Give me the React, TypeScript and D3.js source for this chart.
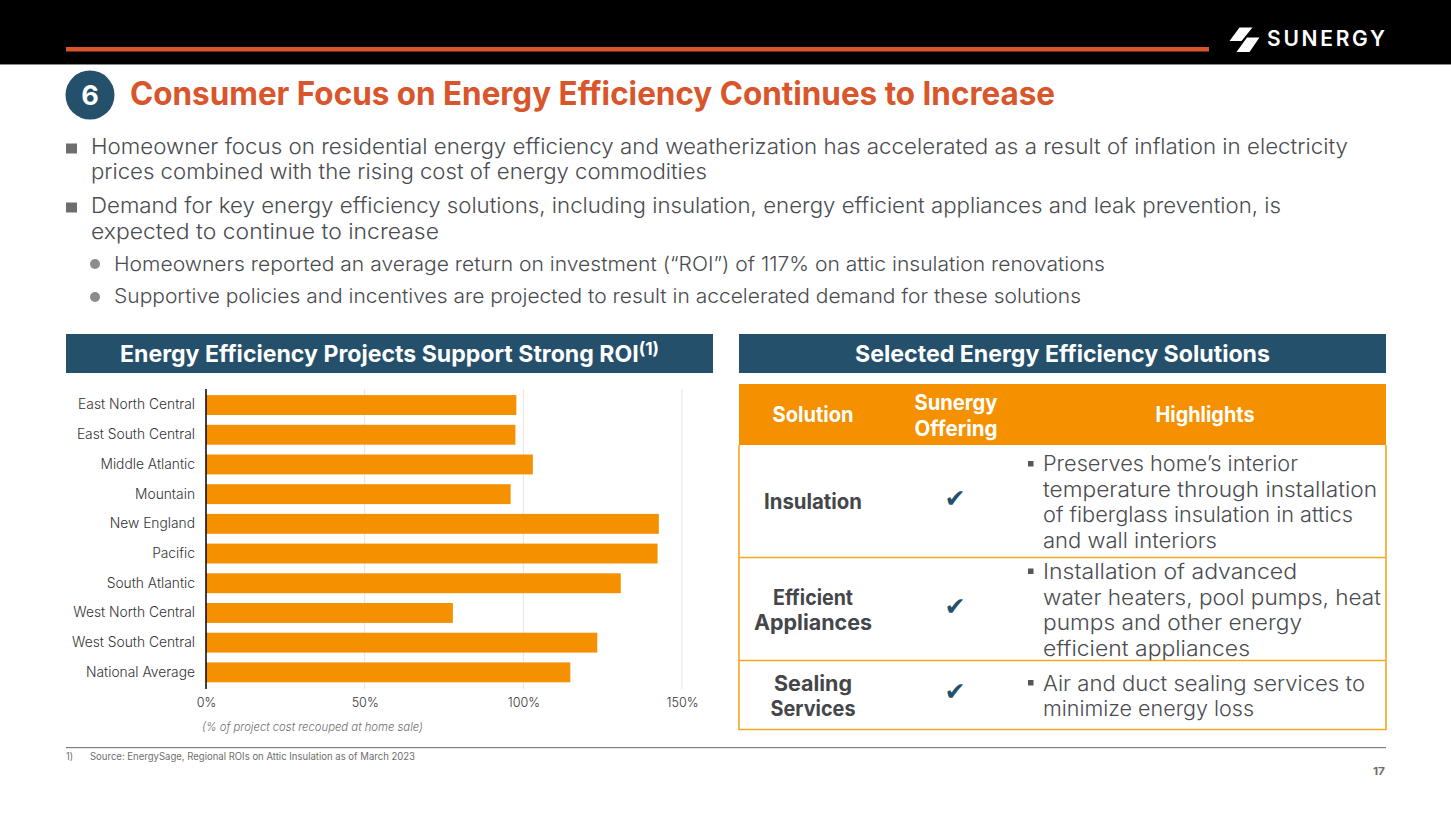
import { useEffect, useRef } from "react";
import * as d3 from "d3";

const regions = [
  "East North Central",
  "East South Central",
  "Middle Atlantic",
  "Mountain",
  "New England",
  "Pacific",
  "South Atlantic",
  "West North Central",
  "West South Central",
  "National Average",
];
const roiValues = [97.8, 97.5, 103, 96, 142.7, 142.3, 130.7, 77.8, 123.3, 114.8];
const roiTicks = [0, 50, 100, 150];

const ORANGE = "#F59100";
const RUST = "#D9552B";
const NAVY = "#25506B";
const GREY = "#4A4C50";
const FONT = "Inter, Lato, sans-serif";

function T({ x, y, w, size, fill = GREY, weight = 300, anchor = "start", style, adjust = "spacingAndGlyphs", children }: any) {
  return (
    <text
      x={x}
      y={y}
      fontSize={size}
      fill={fill}
      fontWeight={weight}
      fontFamily={FONT}
      textAnchor={anchor}
      textLength={w}
      lengthAdjust={adjust}
      fontStyle={style}
    >
      {children}
    </text>
  );
}

function RoiChart() {
  const gRef = useRef<SVGGElement>(null);

  useEffect(() => {
    if (!gRef.current) return;
    const g = d3.select(gRef.current);
    g.selectAll("*").remove();

    const x = d3.scaleLinear().domain([0, 150]).range([206, 682]);
    const y = d3.scaleBand().domain(regions).range([390.2, 687.2]).paddingInner(0.33).paddingOuter(0.165);

    // Grid
    g.append("g")
      .selectAll("line")
      .data(roiTicks.slice(1))
      .join("line")
      .attr("x1", d => x(d))
      .attr("x2", d => x(d))
      .attr("y1", 389)
      .attr("y2", 689)
      .attr("stroke", "#E4E4E4")
      .attr("stroke-width", 1);

    // Bars
    g.append("g")
      .selectAll("rect")
      .data(regions)
      .join("rect")
      .attr("x", x(0))
      .attr("y", d => y(d)!)
      .attr("width", (_, i) => x(roiValues[i]) - x(0))
      .attr("height", y.bandwidth())
      .attr("fill", ORANGE);

    // Axes
    const yAxis = g.append("g")
      .attr("transform", `translate(${x(0)},0)`)
      .call(d3.axisLeft(y).tickSize(0).tickPadding(11));
    yAxis.select(".domain").attr("stroke", "#000").attr("stroke-width", 1.5).attr("d", "M0,389V689");
    yAxis.selectAll("text").attr("fill", "#333").attr("font-size", 13.8).attr("font-weight", 300).attr("font-family", FONT);

    const xAxis = g.append("g")
      .attr("transform", "translate(0,689)")
      .call(d3.axisBottom(x).tickValues(roiTicks).tickSize(0).tickPadding(9).tickFormat(d => `${d}%`));
    xAxis.select(".domain").remove();
    xAxis.selectAll("text").attr("fill", "#333").attr("font-size", 12.6).attr("font-weight", 300).attr("font-family", FONT);
  }, []);

  return <g ref={gRef} />;
}

function Logo() {
  return (
    <g fill="#fff">
      <path d="M1239.5,27.5H1252.5L1241.5,41H1229.5Z" />
      <path d="M1247,37.5H1259.5L1249.5,52H1236.5Z" />
      <T x={1267} y={45.5} w={118} size={21} fill="#fff" weight={600} adjust="spacing">SUNERGY</T>
    </g>
  );
}

export default function App() {
  return (
    <svg width={1451} height={816} style={{ position: "absolute", left: 0, top: 0, background: "#fff" }}>
      {/* Top band */}
      <rect x={0} y={0} width={1451} height={64} fill="#000" />
      <rect x={0} y={64} width={1451} height={1} fill="#8a8a8a" />
      <rect x={66} y={47} width={1143} height={4.5} fill={RUST} />
      <Logo />

      {/* Title */}
      <circle cx={90} cy={95} r={24.5} fill={NAVY} />
      <T x={90} y={105} size={27} fill="#fff" weight={700} anchor="middle">6</T>
      <T x={130} y={105} w={925} size={32} fill={RUST} weight={700}>Consumer Focus on Energy Efficiency Continues to Increase</T>

      {/* Bullets */}
      <rect x={66} y={143.5} width={11} height={10} fill="#6E6E6E" />
      <rect x={66} y={202.5} width={11} height={10} fill="#6E6E6E" />
      <circle cx={95} cy={264} r={5} fill="#8C8C8C" />
      <circle cx={95} cy={297} r={5} fill="#8C8C8C" />
      <T x={91} y={154} w={1257} size={22}>Homeowner focus on residential energy efficiency and weatherization has accelerated as a result of inflation in electricity</T>
      <T x={91} y={179} w={616} size={22}>prices combined with the rising cost of energy commodities</T>
      <T x={91} y={213} w={1190} size={22}>Demand for key energy efficiency solutions, including insulation, energy efficient appliances and leak prevention, is</T>
      <T x={91} y={239} w={348} size={22}>expected to continue to increase</T>
      <T x={114} y={271} w={991} size={20}>Homeowners reported an average return on investment (“ROI”) of 117% on attic insulation renovations</T>
      <T x={114} y={303} w={967} size={20}>Supportive policies and incentives are projected to result in accelerated demand for these solutions</T>

      {/* Section headers */}
      <rect x={66} y={334} width={647} height={39} fill={NAVY} />
      <rect x={739} y={334} width={647} height={39} fill={NAVY} />
      <text x={120} y={362} fontSize={23} fill="#fff" fontWeight={700} fontFamily={FONT} textLength={539} lengthAdjust="spacingAndGlyphs">
        Energy Efficiency Projects Support Strong ROI<tspan dy={-7} fontSize={17}>(1)</tspan>
      </text>
      <T x={855} y={362} w={415} size={23} fill="#fff" weight={700}>Selected Energy Efficiency Solutions</T>

      <RoiChart />
      <T x={202} y={731} w={221} size={12} fill="#6E6E6E" style="italic">(% of project cost recouped at home sale)</T>

      {/* Table */}
      <rect x={739} y={384} width={647} height={61} fill={ORANGE} />
      <path d="M739,445V729.5H1386V445M739,557.5H1386M739,660.5H1386" fill="none" stroke="#F5A623" strokeWidth={1.6} />
      <T x={813} y={422} size={21} fill="#fff" weight={700} anchor="middle" w={81}>Solution</T>
      <T x={956} y={410} size={21} fill="#fff" weight={700} anchor="middle" w={83}>Sunergy</T>
      <T x={956} y={436} size={21} fill="#fff" weight={700} anchor="middle" w={83}>Offering</T>
      <T x={1205} y={422} size={21} fill="#fff" weight={700} anchor="middle" w={99}>Highlights</T>

      <T x={813} y={509} size={21} weight={700} fill="#44464A" anchor="middle" w={98}>Insulation</T>
      <T x={813} y={605} size={21} weight={700} fill="#44464A" anchor="middle" w={80}>Efficient</T>
      <T x={813} y={630} size={21} weight={700} fill="#44464A" anchor="middle" w={118}>Appliances</T>
      <T x={813} y={691} size={21} weight={700} fill="#44464A" anchor="middle" w={78}>Sealing</T>
      <T x={813} y={716} size={21} weight={700} fill="#44464A" anchor="middle" w={85}>Services</T>

      {[507, 615, 700].map(cy => (
        <text key={cy} x={955} y={cy} fontSize={25} fill={NAVY} fontFamily="DejaVu Sans" textAnchor="middle">✔</text>
      ))}

      {[461, 568.5, 680].map(top => (
        <rect key={top} x={1028} y={top} width={5.5} height={5.5} fill="#54565B" />
      ))}
      <T x={1043} y={471} w={255} size={21}>Preserves home’s interior</T>
      <T x={1043} y={497} w={334} size={21}>temperature through installation</T>
      <T x={1043} y={522} w={310} size={21}>of fiberglass insulation in attics</T>
      <T x={1043} y={548} w={174} size={21}>and wall interiors</T>
      <T x={1043} y={579} w={254} size={21}>Installation of advanced</T>
      <T x={1043} y={605} w={338} size={21}>water heaters, pool pumps, heat</T>
      <T x={1043} y={630} w={259} size={21}>pumps and other energy</T>
      <T x={1043} y={656} w={207} size={21}>efficient appliances</T>
      <T x={1043} y={691} w={322} size={21}>Air and duct sealing services to</T>
      <T x={1043} y={716} w={211} size={21}>minimize energy loss</T>

      {/* Footer */}
      <rect x={66} y={747} width={1320} height={1.2} fill="#7F7F7F" />
      <T x={66} y={760} size={10} w={7} fill="#6E6E6E" weight={400}>1)</T>
      <T x={90} y={760} size={10} w={325} fill="#6E6E6E" weight={400}>Source:  EnergySage, Regional ROIs on Attic Insulation as of March 2023</T>
      <T x={1373} y={775} size={11} w={12} fill="#6E6E6E" weight={700}>17</T>
    </svg>
  );
}
